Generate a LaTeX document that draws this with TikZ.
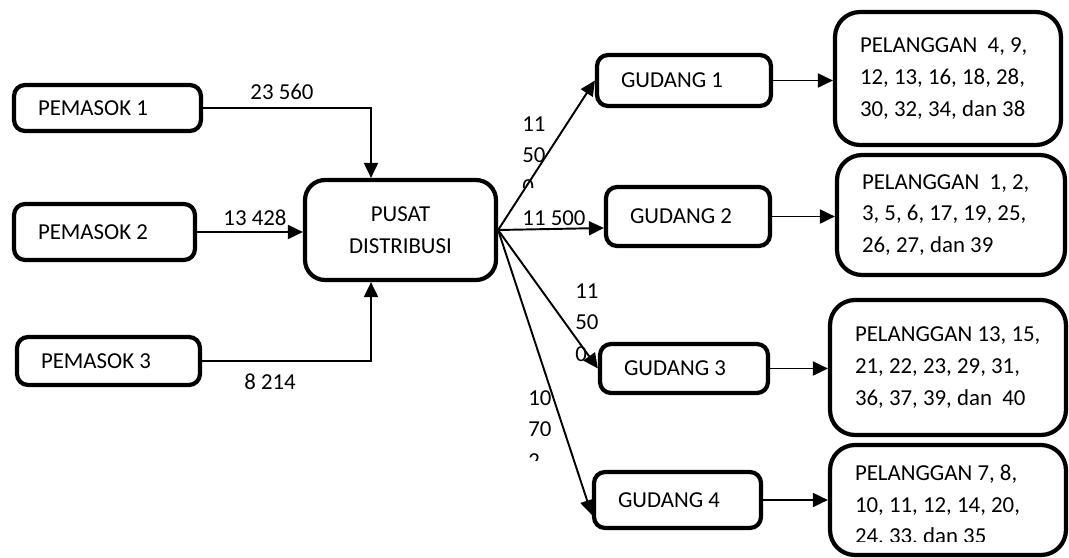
\documentclass[tikz,border=0pt]{standalone}
\usepackage{fontspec}
\setmainfont{Carlito}
\usepackage{tikz}
\usetikzlibrary{arrows.meta,calc,positioning}

\begin{document}
\begin{tikzpicture}[x=0.02cm,y=-0.02cm,font=\fontsize{13}{18}\selectfont,>={Triangle[length=3mm,width=2.8mm]},
  box/.style={draw,line width=2.4pt,rounded corners=2.2mm,inner xsep=4.8mm,inner ysep=0pt,align=flush left},
  cbox/.style={box,rounded corners=5mm,inner xsep=5mm},
  flow/.style={->,line width=1.1pt},
  lab/.style={anchor=north west,inner sep=0pt,align=flush left}]
\useasboundingbox (0,0) rectangle (1069,558);
% pemasok
\node[box,text width=27.8mm,minimum height=9.2mm] (p1) at (107.5,108) {PEMASOK 1};
\node[box,text width=26.6mm,minimum height=11.2mm] (p2) at (104.5,232) {PEMASOK 2};
\node[box,text width=27mm,minimum height=9.6mm] (p3) at (108.5,361) {PEMASOK 3};
% pusat
\node[box,align=center,rounded corners=4mm,minimum width=38.2mm,minimum height=20mm] (pusat) at (400.5,230) {PUSAT\\DISTRIBUSI};
% gudang
\node[box,text width=25.2mm,minimum height=10.2mm] (g1) at (684,80.5) {GUDANG 1};
\node[box,text width=23.2mm,minimum height=11.8mm] (g2) at (688,216.5) {GUDANG 2};
\node[box,text width=24mm,minimum height=9.8mm] (g3) at (684,368.5) {GUDANG 3};
\node[box,text width=23.8mm,minimum height=11.2mm] (g4) at (677.5,500) {GUDANG 4};
% pelanggan
\node[cbox,text width=35.2mm,minimum height=26.6mm] (c1) at (948,78.5) {PELANGGAN\ \ 4, 9,\\12, 13, 16, 18, 28,\\30, 32, 34, dan 38};
\node[cbox,text width=35.6mm,minimum height=24mm] (c2) at (951,215) {PELANGGAN\ \ 1, 2,\\3, 5, 6, 17, 19, 25,\\26, 27, dan 39};
\node[cbox,text width=37.2mm,minimum height=27mm] (c3) at (948,367.5) {PELANGGAN~13,~15,\\21, 22, 23, 29, 31,\\36, 37, 39, dan\ \ 40};
\node[cbox,text width=37.2mm,minimum height=22mm] (c4) at (948,500) {};
\begin{scope}
\clip (830,445) rectangle (1069,541);
\node[cbox,draw=none,text width=37.2mm] (c4t) at (948,506) {PELANGGAN 7, 8,\\10, 11, 12, 14, 20,\\24, 33, dan 35};
\end{scope}
% arus barang
\draw[flow] (p1.east) -| ([xshift=-5.9mm]pusat.north);
\draw[flow] (p2.east) -- (p2.east -| pusat.west);
\draw[flow] (p3.east) -| ([xshift=-5.9mm]pusat.south);
\node (q1) at (282,92) {23 560};
\node (q2) at (255,218) {13 428};
\node (q3) at (270,382) {8 214};
\draw[flow] (pusat.east) -- (g1.west);
\draw[flow] (pusat.east) -- ([yshift=-2.3mm]g2.west);
\draw[flow] (pusat.east) -- (g3.west);
\draw[flow] (pusat.east) -- ([yshift=-3mm]g4.west);
\foreach \i in {1,...,4} {\draw[flow] (g\i.east) -- (g\i.east -| c\i.west);}
\begin{scope}
\clip (500,100) rectangle (570,187);
\node[lab] (w1) at (522,116) {11\\50\\0};
\end{scope}
\node (w2) at (554,218) {11 500};
\node[lab] (w3) at (575,283) {11\\50\\0};
\begin{scope}
\clip (500,380) rectangle (570,460);
\node[lab] (w4) at (528,390) {10\\70\\2};
\end{scope}
\end{tikzpicture}
\end{document}
